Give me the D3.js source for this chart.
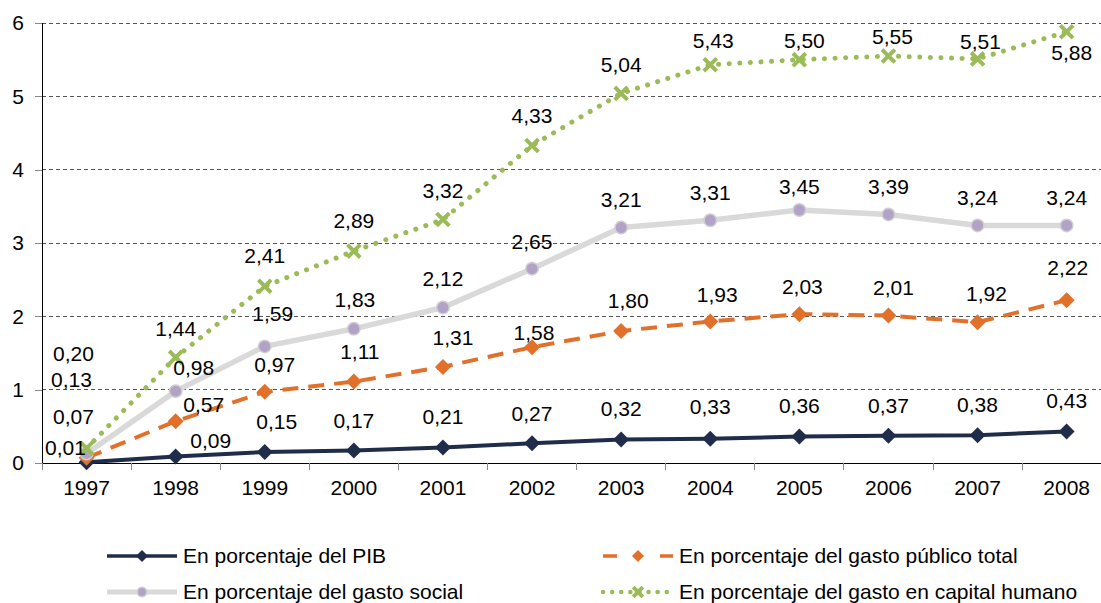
<!DOCTYPE html>
<html>
<head>
<meta charset="utf-8">
<script src="https://cdn.jsdelivr.net/npm/d3@7"></script>
<style>
  body { margin: 0; background: #fff; }
  svg { display: block; font-family: "Liberation Sans", Arial, sans-serif; }
</style>
</head>
<body>
<svg id="chart" width="1101" height="603"></svg>
<script>
// Data
const years = ['1997', '1998', '1999', '2000', '2001', '2002', '2003', '2004', '2005', '2006', '2007', '2008'];
const pib = [0.01, 0.09, 0.15, 0.17, 0.21, 0.27, 0.32, 0.33, 0.36, 0.37, 0.38, 0.43];
const gastoPublico = [0.07, 0.57, 0.97, 1.11, 1.31, 1.58, 1.80, 1.93, 2.03, 2.01, 1.92, 2.22];
const gastoSocial = [0.13, 0.98, 1.59, 1.83, 2.12, 2.65, 3.21, 3.31, 3.45, 3.39, 3.24, 3.24];
const capitalHumano = [0.20, 1.44, 2.41, 2.89, 3.32, 4.33, 5.04, 5.43, 5.50, 5.55, 5.51, 5.88];
const yTicks = [0, 1, 2, 3, 4, 5, 6];

// Label nudges (pixels, relative to the point), as placed in the original
const pibLabelPos = [[-21, -15], [35, -16], [12, -30], [0, -30], [0, -31], [0, -30], [0, -31], [0, -32], [0, -31], [0, -30], [0, -30], [0, -31]];
const publicoLabelPos = [[-13, -41], [28, -17], [10, -27], [6, -30], [10, -29], [2, -14], [7, -30], [7, -27], [3, -27], [5, -28], [9, -29], [1, -33]];
const socialLabelPos = [[-15, -74], [18, -23], [8, -33], [1, -29], [0, -29], [0, -27], [0, -28], [0, -28], [0, -23], [0, -28], [0, -28], [0, -28]];
const humanoLabelPos = [[-13, -95], [0, -29], [0, -31], [0, -30], [0, -29], [0, -30], [0, -29], [3, -24], [5, -19], [4, -19], [3, -17], [5, 21]];

const series = [
    { name: 'En porcentaje del PIB', values: pib, labels: pibLabelPos,
      color: '#1f2d4b', width: 4, dash: null, legendDash: null, cap: 'butt', marker: 'diamond' },
    { name: 'En porcentaje del gasto público total', values: gastoPublico, labels: publicoLabelPos,
      color: '#e0702a', width: 4, dash: '16 10', legendDash: '14 43 13', cap: 'butt', marker: 'diamondO' },
    { name: 'En porcentaje del gasto social', values: gastoSocial, labels: socialLabelPos,
      color: '#d9d9d9', width: 5.5, dash: null, legendDash: null, cap: 'butt', marker: 'circle' },
    { name: 'En porcentaje del gasto en capital humano', values: capitalHumano, labels: humanoLabelPos,
      color: '#9bbb59', width: 5, dash: '0.1 10.5', legendDash: '0.1 9', cap: 'round', marker: 'cross' }
];

/**
 * Layout.
 */
const plotLeft = 42, plotTop = 23, plotBottom = 463, step = 89.1;
const fontSize = 21;

const svg = d3.select('#chart');

const x = d3.scaleBand().domain(years).range([plotLeft, plotLeft + step * years.length]).padding(0);
const cx = d => x(d) + x.bandwidth() / 2;
const y = d3.scaleLinear().domain([0, 6]).range([plotBottom, plotTop]);

// Gridlines
svg.append('g').attr('class', 'grid')
    .selectAll('line').data(yTicks.filter(t => t > 0)).join('line')
    .attr('x1', plotLeft).attr('x2', 1101)
    .attr('y1', d => y(d)).attr('y2', d => y(d))
    .attr('stroke', '#555').attr('stroke-width', 1).attr('stroke-dasharray', '4 3')
    .attr('shape-rendering', 'crispEdges');

// Y axis
const yAxis = svg.append('g').attr('transform', `translate(${plotLeft},0)`)
    .call(d3.axisLeft(y).tickValues(yTicks).tickSize(7).tickPadding(11).tickFormat(d3.format('d')));
yAxis.select('.domain').attr('stroke', '#000').attr('shape-rendering', 'crispEdges');
yAxis.selectAll('.tick line').attr('stroke', '#888').attr('shape-rendering', 'crispEdges');
yAxis.selectAll('.tick text').attr('font-size', fontSize).attr('fill', '#000')
    .attr('font-family', '"Liberation Sans", Arial, sans-serif');

// X axis
const xAxis = svg.append('g').attr('transform', `translate(0,${plotBottom})`)
    .call(d3.axisBottom(x).tickSize(0).tickPadding(17));
xAxis.select('.domain').attr('stroke', '#000').attr('shape-rendering', 'crispEdges');
xAxis.selectAll('.tick text').attr('font-size', fontSize).attr('fill', '#000')
    .attr('font-family', '"Liberation Sans", Arial, sans-serif');
xAxis.selectAll('.bticks').data(years).join('line')
    .attr('x1', d => x(d)).attr('x2', d => x(d))
    .attr('y1', 0).attr('y2', 7)
    .attr('stroke', '#888').attr('shape-rendering', 'crispEdges');

/**
 * Markers.
 */
function drawMarker(g, type, size) {
    if (type === 'diamond' || type === 'diamondO') {
        const s = size;
        const color = type === 'diamond' ? '#1f2d4b' : '#e0702a';
        g.append('path').attr('d', `M0,${-s}L${s},0L0,${s}L${-s},0Z`).attr('fill', color);
    } else if (type === 'circle') {
        g.append('circle').attr('r', size * 0.78).attr('fill', '#b3a2c7')
            .attr('stroke', '#cfcfcf').attr('stroke-width', 1.5);
    } else if (type === 'cross') {
        const s = size * 0.8;
        g.append('path').attr('d', `M${-s},${-s}L${s},${s}M${-s},${s}L${s},${-s}`)
            .attr('stroke', '#9bbb59').attr('stroke-width', 4).attr('fill', 'none');
    }
}

const line = d3.line().x((d, i) => cx(years[i])).y(d => y(d));

series.forEach(s => {
    const g = svg.append('g').attr('class', 'series');
    g.append('path').datum(s.values)
        .attr('d', line)
        .attr('fill', 'none')
        .attr('stroke', s.color)
        .attr('stroke-width', s.width)
        .attr('stroke-dasharray', s.dash)
        .attr('stroke-linecap', s.cap)
        .attr('stroke-linejoin', 'round');
    g.selectAll('.mk').data(s.values).join('g')
        .attr('class', 'mk')
        .attr('transform', (d, i) => `translate(${cx(years[i])},${y(d)})`)
        .each(function() { drawMarker(d3.select(this), s.marker, 8); });
});

// Data labels
const fmt = v => v.toFixed(2).replace('.', ',');
series.forEach(s => {
    svg.append('g').selectAll('text').data(s.values).join('text')
        .attr('x', (d, i) => cx(years[i]) + s.labels[i][0])
        .attr('y', (d, i) => y(d) + s.labels[i][1])
        .attr('dy', '0.35em')
        .attr('text-anchor', 'middle')
        .attr('font-size', fontSize)
        .attr('fill', '#000')
        .text(fmt);
});

/**
 * Legend.
 */
const legendPos = [[107, 556], [107, 592], [603, 556], [603, 592]];
const legendOrder = [0, 2, 1, 3];
legendOrder.forEach((si, k) => {
    const s = series[si];
    const [lx, ly] = legendPos[k];
    const g = svg.append('g').attr('transform', `translate(${lx},${ly})`);
    g.append('line').attr('x1', 0).attr('x2', 70).attr('y1', 0).attr('y2', 0)
        .attr('stroke', s.color).attr('stroke-width', s.width - 0.5)
        .attr('stroke-dasharray', s.legendDash)
        .attr('stroke-linecap', s.cap);
    const m = g.append('g').attr('transform', 'translate(35,0)');
    drawMarker(m, s.marker, 6);
    g.append('text').attr('x', 76).attr('y', 0).attr('dy', '0.35em')
        .attr('font-size', fontSize).attr('fill', '#000').text(s.name);
});
</script>
</body>
</html>
